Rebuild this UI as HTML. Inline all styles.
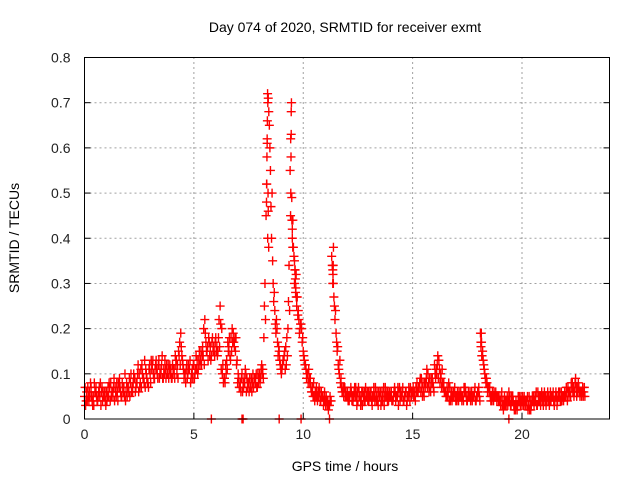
<!DOCTYPE html>
<html><head><meta charset="utf-8"><style>
body{margin:0;background:#fff}
svg{display:block;font-family:"Liberation Sans",sans-serif}
</style></head><body>
<svg id="chart" width="640" height="480">
<text x="345" y="32" text-anchor="middle" font-size="14">Day 074 of 2020, SRMTID for receiver exmt</text>
<text x="345" y="471" text-anchor="middle" font-size="14">GPS time / hours</text>
<text transform="translate(19,238) rotate(-90)" text-anchor="middle" font-size="14">SRMTID / TECUs</text>
<g id="grid"></g><g id="ticks"></g><g id="pts"></g>
<rect x="84.5" y="57.5" width="525" height="361.5" fill="none" stroke="#000" stroke-width="1"/>
</svg>
<script>
const xTicks=[0,5,10,15,20];
const yTicks=[0,0.1,0.2,0.3,0.4,0.5,0.6,0.7,0.8];
const yTickLabels=["0","0.1","0.2","0.3","0.4","0.5","0.6","0.7","0.8"];
const valsA=[.05,.06,.04,.07,.05,.06,.04,.05,.07,.05,
.06,.05,.08,.05,.07,.06,.09,.05,.07,.06,
.07,.08,.06,.09,.08,.10,.07,.09,.11,.08,
.10,.12,.09,.11,.13,.10,.09,.11,.10,.12,
.09,.11,.13,.15,.19,.12,.10,.09,.11,.10,
.12,.14,.11,.13,.16,.22,.15,.17,.14,.16,
.18,.15,.25,.10,.09,.13,.16,.18,.19,.15,
.08,.07,.10,.09,.06,.08,.07,.10,.09,.07,
.10,.12,.18,.45,.71,.55,.35,.24,.20,.15,
.10,.13,.16,.20,.55,.40,.30,.25,.22,.21,
.15,.12,.10,.08,.06,.05,.07,.05,.04,.05,
.04,.03,.03,.36,.27,.19,.12,.08,.06,.07,
.05,.04,.06,.05,.07,.04,.05,.03,.06,.05,
.04,.06,.05,.07,.04,.05,.06,.03,.05,.04,
.05,.04,.06,.05,.07,.05,.04,.06,.05,.07,
.06,.05,.08,.07,.09,.06,.08,.10,.07,.09,
.12,.10,.13,.09,.07,.06,.05,.07,.04,.06,
.05,.04,.06,.05,.07,.04,.05,.06,.05,.04,
.06,.19,.15,.10,.08,.06,.05,.04,.06,.05,
.04,.03,.05,.04,.06,.03,.04,.02,.03,.04,
.03,.05,.04,.03,.02,.04,.05,.03,.04,.06,
.05,.03,.04,.06,.05,.04,.03,.05,.06,.04,
.05,.07,.06,.08,.06,.05,.07,.06,.05];
const valsB=[.03,.07,.05,.04,.08,.05,.06,.03,.06,.04,
.05,.07,.06,.09,.05,.08,.06,.07,.10,.05,
.09,.06,.10,.07,.12,.08,.10,.13,.09,.11,
.13,.10,.12,.09,.11,.14,.10,.12,.09,.11,
.10,.14,.12,.17,.14,.09,.11,.12,.08,.09,
.10,.13,.15,.12,.20,.17,.13,.16,.18,.14,
.16,.22,.11,.08,.12,.17,.14,.20,.16,.12,
.09,.06,.08,.11,.07,.09,.06,.08,.10,.08,
.09,.11,.30,.62,.65,.40,.26,.19,.14,.12,
.12,.15,.18,.34,.68,.38,.28,.23,.20,.17,
.13,.09,.11,.07,.05,.06,.04,.06,.05,.04,
.05,.02,.04,.33,.22,.15,.10,.07,.05,.06,
.04,.06,.05,.07,.03,.06,.04,.05,.07,.04,
.06,.03,.05,.04,.06,.03,.05,.07,.04,.06,
.04,.06,.05,.03,.06,.07,.05,.04,.06,.05,
.05,.07,.06,.09,.05,.08,.11,.06,.09,.07,
.09,.14,.08,.11,.06,.05,.08,.05,.06,.05,
.06,.05,.04,.07,.05,.06,.04,.05,.07,.05,
.05,.17,.12,.08,.07,.05,.06,.05,.04,.05,
.05,.02,.04,.03,.05,.04,.02,.03,.04,.05,
.04,.03,.05,.02,.04,.03,.06,.04,.03,.05,
.04,.05,.03,.05,.04,.06,.05,.04,.05,.06,
.06,.05,.08,.07,.09,.06,.05,.06,.07];
const valsC=[.07,.04,.06,.05,.03,.07,.05,.08,.04,.06,
.04,.08,.05,.07,.06,.04,.07,.08,.05,.08,
.06,.10,.08,.06,.10,.07,.12,.08,.10,.07,
.08,.13,.11,.10,.09,.12,.11,.09,.12,.10,
.12,.09,.10,.14,.16,.11,.08,.10,.13,.11,
.09,.11,.13,.15,.14,.19,.16,.14,.17,.15,
.15,.18,.21,.12,.08,.11,.18,.15,.17,.18,
.10,.08,.06,.08,.09,.06,.09,.07,.08,.10,
.08,.10,.25,.52,.68,.47,.30,.21,.17,.13,
.11,.14,.12,.26,.62,.44,.33,.27,.19,.20,
.14,.11,.08,.09,.07,.04,.05,.07,.06,.03,
.03,.04,.05,.34,.25,.17,.11,.09,.07,.05,
.06,.05,.04,.06,.05,.07,.03,.06,.04,.06,
.05,.04,.07,.05,.03,.06,.04,.05,.06,.05,
.06,.05,.04,.07,.04,.06,.05,.03,.07,.06,
.07,.04,.06,.08,.07,.05,.09,.08,.06,.08,
.10,.12,.11,.07,.08,.05,.06,.04,.05,.07,
.04,.06,.05,.04,.06,.05,.06,.04,.06,.05,
.07,.16,.13,.09,.06,.07,.04,.06,.05,.04,
.03,.04,.03,.05,.04,.05,.03,.04,.05,.03,
.05,.04,.03,.05,.03,.05,.04,.06,.05,.04,
.06,.04,.05,.04,.06,.05,.04,.06,.04,.05,
.07,.06,.05,.06,.08,.07,.06,.05,.06];
const valsD=[.04,.05,.08,.03,.06,.04,.07,.06,.05,.03,
.07,.04,.06,.04,.08,.07,.05,.06,.04,.07,
.05,.07,.09,.08,.06,.11,.09,.07,.08,.12,
.11,.09,.13,.12,.10,.09,.13,.10,.11,.09,
.11,.12,.09,.12,.13,.10,.12,.11,.09,.12,
.11,.10,.12,.14,.12,.15,.18,.13,.15,.17,
.14,.16,.20,.09,.10,.15,.13,.17,.18,.13,
.07,.09,.07,.10,.08,.07,.08,.09,.07,.09,
.11,.09,.22,.40,.60,.50,.28,.22,.16,.11,
.13,.11,.14,.24,.49,.36,.32,.24,.21,.18,
.12,.10,.09,.06,.08,.05,.06,.04,.05,.06,
.04,.03,.04,.30,.24,.16,.13,.06,.07,.05,
.05,.07,.04,.05,.06,.05,.06,.04,.05,.06,
.05,.05,.04,.06,.05,.04,.07,.05,.06,.05,
.04,.07,.05,.06,.05,.04,.06,.05,.04,.06,
.06,.06,.07,.06,.08,.07,.07,.09,.08,.06,
.11,.09,.10,.08,.06,.07,.04,.06,.05,.04,
.05,.05,.05,.06,.04,.05,.05,.05,.04,.06,
.04,.14,.11,.09,.07,.04,.05,.05,.05,.04,
.06,.03,.03,.04,.03,.05,.03,.02,.05,.04,
.03,.04,.02,.04,.05,.04,.03,.05,.05,.03,
.05,.06,.04,.05,.03,.05,.06,.04,.05,.05,
.04,.06,.07,.05,.07,.08,.06,.07,.05];
const spikeT=[8.32,8.33,8.34,8.35,8.36,8.37,8.38,8.39,8.40,8.42,9.42,9.43,9.44,9.45,9.46,9.48,9.5,9.52,9.6,9.62,9.64,9.66,9.68,11.35,11.36,11.37,11.38,18.12,18.14,18.16,5.8,7.2,7.25,8.9,9.9,11.2,19.4];
const spikeV=[.48,.52,.58,.61,.66,.72,.70,.50,.46,.38,.45,.50,.58,.63,.70,.44,.42,.38,.35,.33,.31,.29,.27,.30,.32,.34,.38,.17,.19,.14,0,0,0,0,0,0,0];
const X0=84.5,X1=609.5,Y0=419,Y1=57.5,XMAX=24,YMAX=0.8;
const xs=v=>X0+v/XMAX*(X1-X0);
const ys=v=>Y0-v/YMAX*(Y0-Y1);
const NS="http://www.w3.org/2000/svg";
const grid=document.getElementById('grid'),ticks=document.getElementById('ticks'),pts=document.getElementById('pts');
function mk(tag,attrs,parent){const e=document.createElementNS(NS,tag);for(const k in attrs)e.setAttribute(k,attrs[k]);parent.appendChild(e);return e;}
xTicks.forEach(t=>{const x=xs(t);
 if(t>0){const g=mk('line',{x1:x,x2:x,y1:Y0,y2:Y1,stroke:'#a0a0a0','stroke-dasharray':'2,3'},grid);
 
 }
 const l=mk('text',{x:x,y:Y0+20,'text-anchor':'middle','font-size':14,fill:'#222'},ticks);l.textContent=t;
 
 
 const tk=mk('line',{x1:x,x2:x,y1:Y0,y2:Y0-6,stroke:'#000'},ticks);
 
 });
yTicks.forEach((t,i)=>{const y=ys(t);
 if(t>0&&t<YMAX){const g=mk('line',{x1:X0,x2:X1,y1:y,y2:y,stroke:'#a0a0a0','stroke-dasharray':'2,3'},grid);
 
 }
 const l=mk('text',{x:X0-14,y:y+5,'text-anchor':'end','font-size':14,fill:'#222'},ticks);l.textContent=yTickLabels[i];
 
 
 const tk=mk('line',{x1:X0,x2:X0+6,y1:y,y2:y,stroke:'#000'},ticks);
 
 
 const tk2=mk('line',{x1:X1,x2:X1-6,y1:y,y2:y,stroke:'#000'},ticks);
 
 });
function plus(t,v){const x=xs(t),y=ys(v);
 const p=mk('path',{d:`M${x-4.5},${y}H${x+4.5}M${x},${y-4.5}V${y+4.5}`,stroke:'#ff0000','stroke-width':1.4,fill:'none'},pts);
 
 }
valsA.forEach((v,i)=>plus(i*0.1,v));
valsC.forEach((v,i)=>plus(i*0.1+0.025,v));
valsB.forEach((v,i)=>plus(i*0.1+0.05,v));
valsD.forEach((v,i)=>plus(i*0.1+0.075,v));
spikeT.forEach((t,i)=>plus(t,spikeV[i]));
</script>
</body></html>
